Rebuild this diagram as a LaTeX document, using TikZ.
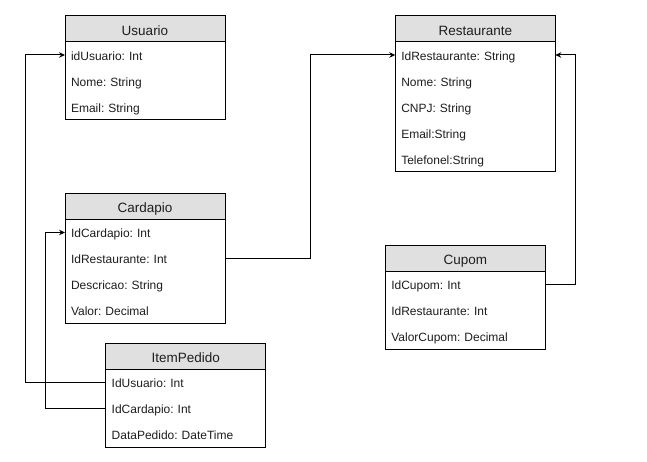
\documentclass[tikz,border=0pt]{standalone}
\usepackage{fontspec}
\setmainfont{Liberation Sans}
\frenchspacing
\usetikzlibrary{arrows.meta}
\definecolor{hdrgray}{RGB}{224,224,224}
\definecolor{txt}{RGB}{30,30,30}
\tikzset{
  hdr/.style={draw=black, fill=hdrgray, line width=1pt, minimum width=160pt, minimum height=26pt,
    inner sep=0pt, outer sep=0pt, anchor=north west, text=txt, font=\fontsize{13.5}{16}\selectfont,
    text height=12.3pt, text depth=0pt},
  attr/.style={minimum height=26pt, text width=148pt, inner xsep=6pt, inner ysep=0pt, outer sep=0pt,
    anchor=north west, align=left, text=txt, font=\fontsize{12}{14}\selectfont\frenchspacing,
    text height=10.6pt, text depth=0.4pt},
  frame/.style={draw=black, line width=1pt},
  conn/.style={draw=black, line width=1pt, -{Stealth[length=6pt,width=5.5pt,inset=2pt]}},
}
\begin{document}
\begin{tikzpicture}[x=1pt,y=-1pt]
\useasboundingbox[fill=white] (0,0) rectangle (647,462);

% Usuario
\node[hdr] (uh) at (65,16) {Usuario};
\node[attr] (u1) at (uh.south west) {idUsuario: Int};
\node[attr] (u2) at (u1.south west) {Nome: String};
\node[attr] (u3) at (u2.south west) {Email: String};
\draw[frame] (uh.south west) rectangle (u3.south east);

% Restaurante
\node[hdr] (rh) at (395.3,16) {Restaurante};
\node[attr] (r1) at (rh.south west) {IdRestaurante: String};
\node[attr] (r2) at (r1.south west) {Nome: String};
\node[attr] (r3) at (r2.south west) {CNPJ: String};
\node[attr] (r4) at (r3.south west) {Email:String};
\node[attr] (r5) at (r4.south west) {Telefonel:String};
\draw[frame] (rh.south west) rectangle (r5.south east);

% Cardapio
\node[hdr] (ch) at (65,193.5) {Cardapio};
\node[attr] (c1) at (ch.south west) {IdCardapio: Int};
\node[attr] (c2) at (c1.south west) {IdRestaurante: Int};
\node[attr] (c3) at (c2.south west) {Descricao: String};
\node[attr] (c4) at (c3.south west) {Valor: Decimal};
\draw[frame] (ch.south west) rectangle (c4.south east);

% ItemPedido
\node[hdr] (ih) at (105.7,343.3) {ItemPedido};
\node[attr] (i1) at (ih.south west) {IdUsuario: Int};
\node[attr] (i2) at (i1.south west) {IdCardapio: Int};
\node[attr] (i3) at (i2.south west) {DataPedido: DateTime};
\draw[frame] (ih.south west) rectangle (i3.south east);

% Cupom
\node[hdr] (cph) at (385.3,245.3) {Cupom};
\node[attr] (cp1) at (cph.south west) {IdCupom: Int};
\node[attr] (cp2) at (cp1.south west) {IdRestaurante: Int};
\node[attr] (cp3) at (cp2.south west) {ValorCupom: Decimal};
\draw[frame] (cph.south west) rectangle (cp3.south east);

% connectors
\draw[conn] (i1.west) -- ++(-80.7,0) |- (u1.west);
\draw[conn] (i2.west) -- ++(-60.7,0) |- (c1.west);
\draw[conn] (c2.east) -- ++(85,0) |- (r1.west);
\draw[conn] (cp1.east) -- ++(30,0) |- (r1.east);
\end{tikzpicture}
\end{document}
